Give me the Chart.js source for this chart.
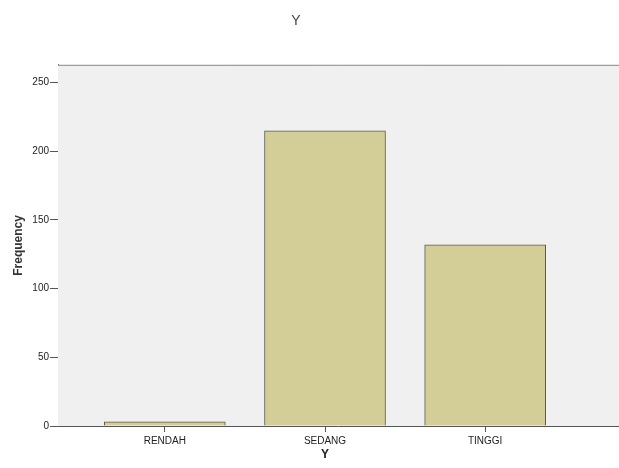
<!DOCTYPE html>
<html>
<head>
<meta charset="utf-8">
<script src="https://cdn.jsdelivr.net/npm/chart.js@4/dist/chart.umd.min.js"></script>
<style>
  html, body { margin: 0; padding: 0; background: #fff; }
  #wrap { width: 619px; height: 468px; }
</style>
</head>
<body>
<div id="wrap"><canvas id="chart"></canvas></div>
<script>
// Frequency of Y per category.
const categories = ['RENDAH', 'SEDANG', 'TINGGI'];
const frequencies = [3, 215, 132];
const yTicks = [0, 50, 100, 150, 200, 250];

const FONT = 'Arial, "Liberation Sans", sans-serif';

// Fills the plot panel and draws its frame out to the right edge of the canvas.
const plotPanel = {
  id: 'plotPanel',
  beforeDatasetsDraw(chart) {
    const { ctx, chartArea: a, width } = chart;
    ctx.save();
    ctx.fillStyle = '#f0f0f0';
    ctx.fillRect(a.left, a.top, width - a.left, a.bottom - a.top);
    ctx.strokeStyle = '#8a8a8a';
    ctx.lineWidth = 1;
    ctx.beginPath();
    ctx.moveTo(a.left, a.top + 0.5);
    ctx.lineTo(width, a.top + 0.5);
    ctx.stroke();
    ctx.strokeStyle = '#555';
    ctx.beginPath();
    ctx.moveTo(a.left, a.bottom + 0.5);
    ctx.lineTo(width, a.bottom + 0.5);
    ctx.stroke();
    ctx.restore();
  }
};

new Chart(document.getElementById('chart'), {
  type: 'bar',
  data: {
    datasets: [{
      data: frequencies.map((v, i) => ({ x: i, y: v })),
      backgroundColor: '#d3ce97',
      borderColor: '#5a5a4a',
      borderWidth: 1,
      borderSkipped: 'bottom',
      barThickness: 121,
    }]
  },
  options: {
    responsive: true,
    maintainAspectRatio: false,
    animation: false,
    layout: { padding: { right: 27 } },
    plugins: {
      legend: { display: false },
      tooltip: { enabled: false },
      title: {
        display: true, text: 'Y', color: '#444',
        font: { family: FONT, size: 14, weight: 'normal' },
        padding: { top: 13, bottom: 35 }
      }
    },
    scales: {
      x: {
        type: 'linear', min: -0.667, max: 2.667,
        offset: false,
        afterFit: s => { s.height = 42; },
        afterBuildTicks: s => { s.ticks = categories.map((c, i) => ({ value: i })); },
        grid: { drawOnChartArea: false, offset: false, tickLength: 6, color: '#555' },
        border: { display: false },
        ticks: {
          color: '#222', padding: 3, maxRotation: 0,
          font: { family: FONT, size: 10 },
          callback: v => categories[v]
        },
        title: {
          display: true, text: 'Y', color: '#222',
          font: { family: FONT, size: 12, weight: 'bold' },
          padding: { top: 0, bottom: 6 }
        }
      },
      y: {
        min: 0, max: 263,
        afterFit: s => { s.width = 58; },
        afterBuildTicks: s => { s.ticks = yTicks.map(v => ({ value: v })); },
        grid: { drawOnChartArea: false, tickLength: 8, color: '#555' },
        border: { display: true, color: '#555', width: 1 },
        ticks: {
          color: '#222', padding: 1,
          font: { family: FONT, size: 10 }
        },
        title: {
          display: true, text: 'Frequency', color: '#333',
          font: { family: FONT, size: 12, weight: 'bold' },
          padding: { top: 11, bottom: 0 }
        }
      }
    }
  },
  plugins: [plotPanel]
});
</script>
</body>
</html>
